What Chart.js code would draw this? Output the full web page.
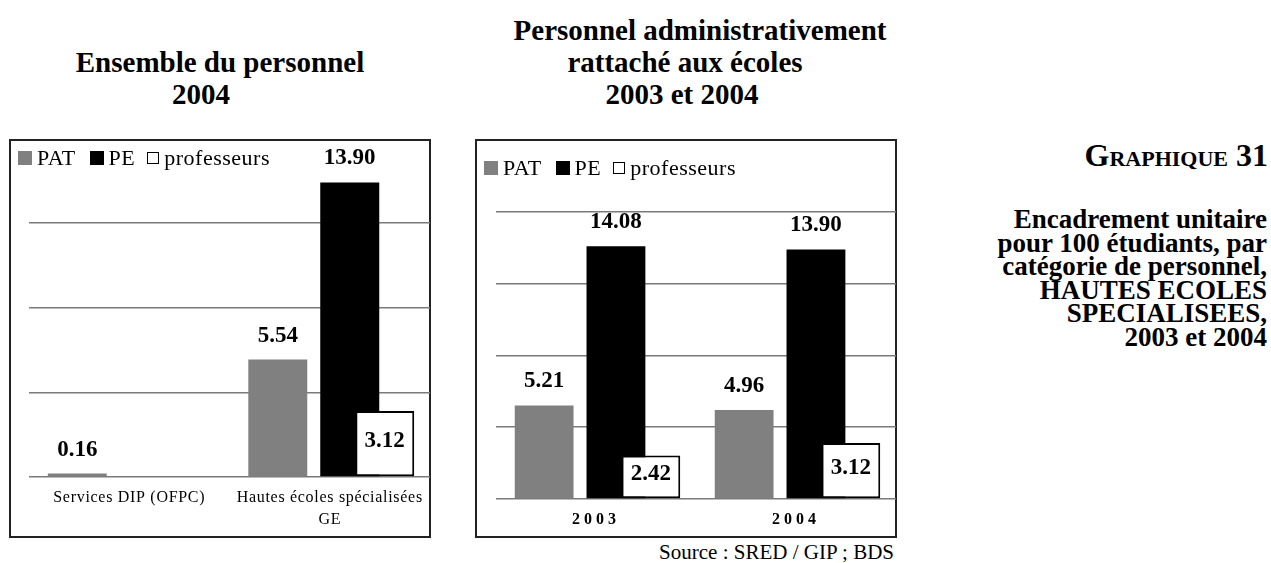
<!DOCTYPE html>
<html lang="fr">
<head>
<meta charset="utf-8">
<script src="https://cdn.jsdelivr.net/npm/chart.js@4.4.1/dist/chart.umd.min.js"></script>
<style>
  body { margin: 0; width: 1271px; height: 563px; position: relative; overflow: hidden; background: #fff; color: #000; font-family: "Liberation Serif", "Times New Roman", serif; }
  .t { position: absolute; white-space: nowrap; line-height: 1; transform: translate(-50%, -50%); font-weight: bold; }
  .t.r { transform: translate(-100%, -50%); }
  .box { position: absolute; box-sizing: border-box; border: 2px solid #222; }
  .plot { position: absolute; }
  .legend { position: absolute; display: flex; align-items: center; font-size: 22px; line-height: 1; letter-spacing: 0.5px; transform: translateY(-50%); white-space: nowrap; }
  .legend .sw { display: inline-block; width: 14px; height: 14px; box-sizing: border-box; margin-right: 5px; }
  .legend .sw.open { width: 12px; height: 12px; border: 1.5px solid #000; }
  .legend .txt { margin-right: 14px; }
  .legend .txt.short { margin-right: 12px; }
</style>
</head>
<body>

<div class="t" style="left:220px; top:62px; font-size:29px">Ensemble du personnel</div>
<div class="t" style="left:201px; top:94px; font-size:29px">2004</div>

<div class="t" style="left:700px; top:30px; font-size:29px">Personnel administrativement</div>
<div class="t" style="left:685px; top:62px; font-size:29px">rattaché aux écoles</div>
<div class="t" style="left:682px; top:94px; font-size:29px">2003 et 2004</div>

<div class="t r" style="left:1268px; top:155px; font-size:32px; font-variant:small-caps">Graphique 31</div>
<div class="t r" style="left:1267px; top:219px; font-size:27px">Encadrement unitaire</div>
<div class="t r" style="left:1267px; top:242.5px; font-size:27px">pour 100 étudiants, par</div>
<div class="t r" style="left:1267px; top:266px; font-size:27px">catégorie de personnel,</div>
<div class="t r" style="left:1267px; top:289.5px; font-size:27px">HAUTES ECOLES</div>
<div class="t r" style="left:1267px; top:313px; font-size:27px">SPECIALISEES,</div>
<div class="t r" style="left:1267px; top:336.5px; font-size:27px">2003 et 2004</div>

<div class="t r" style="left:894px; top:552px; font-size:21px; font-weight:normal">Source : SRED / GIP ; BDS</div>

<div class="box" style="left:9px; top:139px; width:422px; height:399px"></div>
<div class="plot" style="left:9px; top:138px; width:422px; height:400px"><canvas id="chartGroup"></canvas></div>
<div class="legend" id="legendGroup" style="left:18px; top:158px"></div>

<div class="box" style="left:475px; top:139px; width:422px; height:399px"></div>
<div class="plot" style="left:475px; top:138px; width:422px; height:400px"><canvas id="chartYears"></canvas></div>
<div class="legend" id="legendYears" style="left:484px; top:168px"></div>

<script>
// series
const seriesNames = ['PAT', 'PE', 'professeurs']
const seriesFill = ['#808080', '#000000', '#ffffff']

// left: ensemble du personnel 2004
const groupLabels = ['Services DIP (OFPC)', ['Hautes écoles spécialisées', 'GE']]
const groupPat = [0.16, 5.54]
const groupPe = [null, 13.90]
const groupProf = [null, 3.12]

// right: rattaché aux écoles 2003 et 2004
const yearLabels = ['2003', '2004']
const yearPat = [5.21, 4.96]
const yearPe = [14.08, 13.90]
const yearProf = [2.42, 3.12]

const serif = '"Liberation Serif", "Times New Roman", serif'

function buildLegend(id) {
    const el = document.getElementById(id)
    seriesNames.forEach((name, i) => {
        const sw = document.createElement('span')
        sw.className = 'sw' + (i === 2 ? ' open' : '')
        sw.style.background = seriesFill[i]
        const txt = document.createElement('span')
        txt.className = 'txt' + (i === 1 ? ' short' : '')
        txt.textContent = name
        el.appendChild(sw)
        el.appendChild(txt)
    })
}

// PAT alone in slot 'a'; PE and professeurs share slot 'b' so the white bar overlaps the black one
function makeDatasets(pat, pe, prof) {
    return [
        { label: seriesNames[0], data: pat, backgroundColor: seriesFill[0], borderWidth: 0,
          stack: 'a', categoryPercentage: 1.037, barPercentage: 0.567 },
        { label: seriesNames[2], data: prof, backgroundColor: seriesFill[2], borderColor: '#000',
          borderWidth: 2, borderSkipped: false, stack: 'b', categoryPercentage: 1.097, barPercentage: 0.536, inside: true },
        { label: seriesNames[1], data: pe, backgroundColor: seriesFill[1], borderWidth: 0,
          stack: 'b', categoryPercentage: 0.399, barPercentage: 1.475 }
    ]
}

const spaced = px => ({
    id: 'spaced',
    beforeDraw(chart) { chart.ctx.letterSpacing = px + 'px' },
    beforeDatasetsDraw(chart) { chart.ctx.letterSpacing = '0px' }
})

const valueLabels = {
    id: 'valueLabels',
    afterDatasetsDraw(chart) {
        const ctx = chart.ctx
        ctx.save()
        ctx.font = 'bold 23px ' + serif
        ctx.fillStyle = '#000'
        ctx.textAlign = 'center'
        ctx.textBaseline = 'middle'
        chart.data.datasets.forEach((ds, i) => {
            chart.getDatasetMeta(i).data.forEach((bar, j) => {
                const v = ds.data[j]
                if (v == null) return
                const y = ds.inside ? (bar.y + bar.base) / 2 - 3 : bar.y - 24
                ctx.fillText(v.toFixed(2), bar.x, y)
            })
        })
        ctx.restore()
    }
}

function makeChart(id, labels, datasets, cfg) {
    return new Chart(document.getElementById(id), {
        type: 'bar',
        data: { labels, datasets },
        options: {
            responsive: true,
            maintainAspectRatio: false,
            animation: false,
            layout: { padding: cfg.padding },
            plugins: { legend: { display: false }, tooltip: { enabled: false } },
            scales: {
                x: {
                    grid: { display: false, drawTicks: false },
                    border: { display: false },
                    ticks: { color: '#000', font: cfg.tickFont, padding: cfg.tickPadding, maxRotation: 0, autoSkip: false },
                    afterFit: s => { s.height = cfg.axisHeight }
                },
                y: {
                    min: 0,
                    max: cfg.yMax,
                    stacked: false,
                    ticks: { display: false, stepSize: 4 },
                    grid: {
                        drawTicks: false,
                        lineWidth: 1.5,
                        color: c => c.tick && c.tick.value === cfg.yMax ? 'rgba(0,0,0,0)' : '#7a7a7a'
                    },
                    border: { display: false },
                    afterFit: s => { s.width = 0 }
                }
            }
        },
        plugins: [spaced(cfg.spacing), valueLabels]
    })
}

buildLegend('legendGroup')
buildLegend('legendYears')

makeChart('chartGroup', groupLabels, makeDatasets(groupPat, groupPe, groupProf), {
    yMax: 16,
    padding: { left: 20, right: 1, top: 0, bottom: 0 },
    tickFont: { family: serif, size: 16, lineHeight: 1.35 },
    tickPadding: 10,
    axisHeight: 61,
    spacing: 0.7
})

makeChart('chartYears', yearLabels, makeDatasets(yearPat, yearPe, yearProf), {
    yMax: 20,
    padding: { left: 21, right: 1, top: 2, bottom: 0 },
    tickFont: { family: serif, size: 16, weight: 'bold', lineHeight: 1.2 },
    tickPadding: 11,
    axisHeight: 39,
    spacing: 4
})
</script>
</body>
</html>
